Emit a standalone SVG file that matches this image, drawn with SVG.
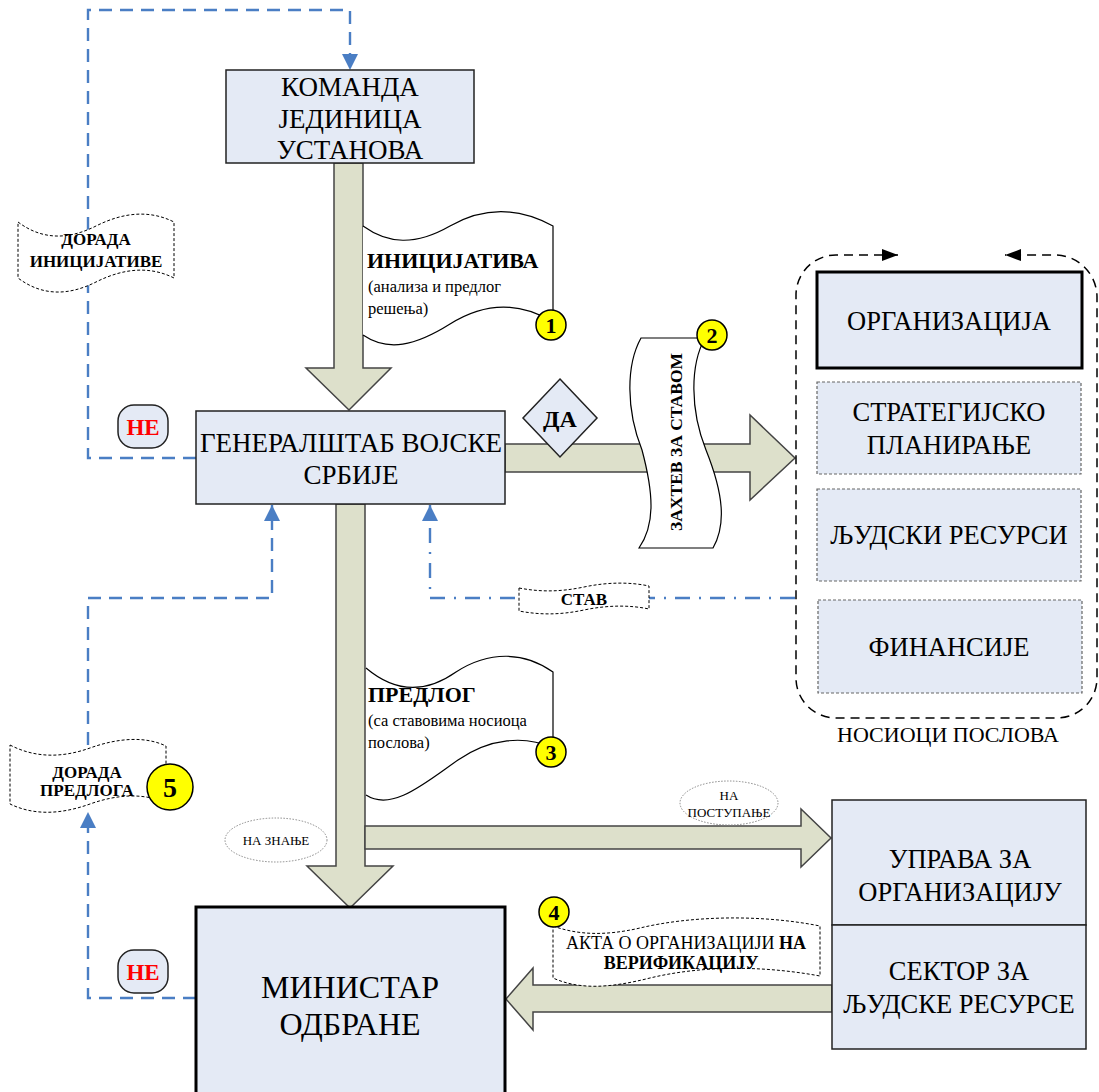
<svg xmlns="http://www.w3.org/2000/svg" width="1099" height="1092" viewBox="0 0 1099 1092">
<style>
  text { font-family: "Liberation Serif", "DejaVu Serif", serif; fill: #000; }
  .box { fill: #E4EAF5; stroke: #222; stroke-width: 1.5; }
  .boxd { fill: #E4EAF5; stroke: #666; stroke-width: 1.2; stroke-dasharray: 3 2; }
  .arr { fill: #DDE0CB; stroke: #444; stroke-width: 1.5; }
  .doc { fill: #fff; stroke: #000; stroke-width: 1.2; }
  .ban { fill: #fff; stroke: #000; stroke-width: 1; stroke-dasharray: 3 2; }
  .blue { fill: none; stroke: #4A7EC4; stroke-width: 2.4; stroke-dasharray: 13 8; }
  .bluedd { fill: none; stroke: #4A7EC4; stroke-width: 2.4; stroke-dasharray: 15 9 2 9; }
  .num { fill: #FFFF00; stroke: #000; stroke-width: 1.5; }
  .numt { font-weight: bold; font-size: 22px; text-anchor: middle; }
  .big { font-size: 27px; text-anchor: middle; }
  .mid { font-size: 26.5px; text-anchor: middle; }
  .ell { fill: #fff; stroke: #888; stroke-width: 1; stroke-dasharray: 1.5 1.5; }
  .small { font-size: 13px; text-anchor: middle; }
  .bb { font-weight: bold; font-size: 17px; text-anchor: middle; }
  .dt { font-weight: bold; font-size: 22px; }
  .ds { font-size: 16.5px; }
</style>
<defs>
  <marker id="bl" viewBox="0 0 16 16" refX="16" refY="8" markerWidth="16" markerHeight="16" markerUnits="userSpaceOnUse" orient="auto" overflow="visible">
    <path d="M0,0 L16,8 L0,16 Z" fill="#4A7EC4"/>
  </marker>
  <marker id="bk" viewBox="0 0 16 12" refX="16" refY="6" markerWidth="16" markerHeight="12" markerUnits="userSpaceOnUse" orient="auto-start-reverse" overflow="visible">
    <path d="M0,0 L16,6 L0,12 Z" fill="#000"/>
  </marker>
</defs>

<g id="connectors">
  <path class="blue" d="M196,458 H88 V10 H350 V70" marker-end="url(#bl)"/>
  <path class="blue" d="M88,745 V598 H272 V505" marker-end="url(#bl)"/>
  <path class="blue" d="M196,998 H88 V812" marker-end="url(#bl)"/>
  <path class="bluedd" d="M795,598 H430 V505" marker-end="url(#bl)"/>
  <polygon class="arr" points="334,163 363,163 363,368 391,368 349,410 306,368 334,368"/>
  <polygon class="arr" points="505,444 750,444 750,415 795,458 750,500 750,472 505,472"/>
  <polygon class="arr" points="336,504 365,504 365,866 393,866 350,908 307,866 336,866"/>
  <polygon class="arr" points="365,826 801,826 801,809 831,838 801,867 801,849 365,849"/>
  <polygon class="arr" points="832,985 533,985 533,968 506,999 533,1030 533,1012 832,1012"/>
</g>

<g id="node-komanda">
  <rect class="box" x="226" y="70" width="248" height="93"/>
  <text class="big" x="350" y="96">КОМАНДА</text>
  <text class="big" x="350" y="128">ЈЕДИНИЦА</text>
  <text class="big" x="350" y="159">УСТАНОВА</text>
</g>

<g id="node-dorada-inicijative">
  <path class="ban" d="M18,222 C42,240 68,240 96,226 C124,212 150,210 174,222 L174,278 C150,266 124,268 96,282 C68,296 42,296 18,278 Z"/>
  <text class="bb" x="96" y="245">ДОРАДА</text>
  <text class="bb" x="96" y="267">ИНИЦИЈАТИВЕ</text>
</g>

<g id="node-inicijativa">
  <path class="doc" d="M363,226 C388,244 415,246 450,226 C485,206 520,208 553,226 L553,322 C520,302 485,302 450,324 C415,346 388,352 363,335"/>
  <text class="dt" x="367" y="268">ИНИЦИЈАТИВА</text>
  <text class="ds" x="368" y="292">(анализа и предлог</text>
  <text class="ds" x="368" y="314">решења)</text>
  <circle class="num" cx="551" cy="325" r="15"/>
  <text class="numt" x="551" y="333">1</text>
</g>

<g id="node-ne-1">
  <rect class="box" x="118" y="405" width="50" height="43" rx="16"/>
  <text x="143" y="435" style="font-weight:bold;font-size:23px;text-anchor:middle;fill:#FF0000">НЕ</text>
</g>

<g id="node-generalstab">
  <rect class="box" x="196" y="411" width="309" height="93"/>
  <text class="big" x="351" y="452">ГЕНЕРАЛШТАБ ВОЈСКЕ</text>
  <text class="big" x="351" y="484">СРБИЈЕ</text>
</g>

<g id="node-da">
  <polygon class="box" points="560,379 597,418 560,457 523,418"/>
  <text x="560" y="427" style="font-weight:bold;font-size:24px;text-anchor:middle">ДА</text>
</g>

<g id="node-zahtev">
  <path class="doc" d="M641,338 L705,338 C690,365 690,410 706,450 C724,495 726,525 713,548 L639,548 C655,525 654,495 642,450 C626,410 626,365 641,338 Z"/>
  <text transform="translate(682,442) rotate(-90)" style="font-weight:bold;font-size:17.5px;text-anchor:middle">ЗАХТЕВ ЗА СТАВОМ</text>
  <circle class="num" cx="712" cy="335" r="15"/>
  <text class="numt" x="712" y="343">2</text>
</g>

<g id="node-nosioci">
  <path d="M898,255 H836 A40,40 0 0 0 796,295 V678 A40,40 0 0 0 836,718 H1057 A40,40 0 0 0 1097,678 V297 A42,42 0 0 0 1055,255 H1005" fill="none" stroke="#000" stroke-width="1.5" stroke-dasharray="9 6" marker-start="url(#bk)" marker-end="url(#bk)"/>
  <text x="948" y="742" style="font-size:22px;text-anchor:middle">НОСИОЦИ ПОСЛОВА</text>
</g>

<g id="node-organizacija">
  <rect x="817" y="272" width="265" height="96" fill="#E4EAF5" stroke="#000" stroke-width="3"/>
  <text class="mid" x="949" y="330">ОРГАНИЗАЦИЈА</text>
</g>

<g id="node-strategijsko">
  <rect class="boxd" x="817" y="382" width="264" height="92"/>
  <text class="mid" x="949" y="421">СТРАТЕГИЈСКО</text>
  <text class="mid" x="949" y="454">ПЛАНИРАЊЕ</text>
</g>

<g id="node-ljudski">
  <rect class="boxd" x="817" y="489" width="264" height="92"/>
  <text class="mid" x="949" y="544">ЉУДСКИ РЕСУРСИ</text>
</g>

<g id="node-finansije">
  <rect class="boxd" x="818" y="600" width="264" height="93"/>
  <text class="mid" x="949" y="656">ФИНАНСИЈЕ</text>
</g>

<g id="node-stav">
  <path class="ban" d="M519,588 C540,592 560,592 584,587 C608,582 630,582 649,586 L649,609 C630,605 608,605 584,610 C560,615 540,615 519,611 Z"/>
  <text class="bb" x="584" y="605">СТАВ</text>
</g>

<g id="node-predlog">
  <path class="doc" d="M366,668 C392,690 422,696 456,672 C490,650 525,652 553,672 L553,748 C525,735 490,738 458,760 C425,783 392,812 366,795"/>
  <text class="dt" x="368" y="702">ПРЕДЛОГ</text>
  <text class="ds" x="368" y="726">(са ставовима носиоца</text>
  <text class="ds" x="368" y="748">послова)</text>
  <circle class="num" cx="551" cy="752" r="15"/>
  <text class="numt" x="551" y="760">3</text>
</g>

<g id="node-dorada-predloga">
  <path class="ban" d="M10,745 C35,758 62,758 90,748 C118,738 145,736 166,746 L166,803 C145,793 118,794 90,804 C62,814 35,816 10,804 Z"/>
  <text class="bb" x="87" y="778">ДОРАДА</text>
  <text class="bb" x="87" y="796">ПРЕДЛОГА</text>
  <circle class="num" cx="170" cy="787" r="23"/>
  <text x="170" y="797" style="font-weight:bold;font-size:28px;text-anchor:middle">5</text>
</g>

<g id="node-na-znanje">
  <ellipse class="ell" cx="276" cy="840" rx="51" ry="22"/>
  <text class="small" x="276" y="845">НА ЗНАЊЕ</text>
</g>

<g id="node-na-postupanje">
  <ellipse class="ell" cx="729" cy="803" rx="49" ry="22"/>
  <text class="small" x="729" y="800">НА</text>
  <text class="small" x="729" y="817">ПОСТУПАЊЕ</text>
</g>

<g id="node-uprava">
  <rect class="box" x="832" y="800" width="254" height="125"/>
  <text class="mid" x="960" y="868">УПРАВА ЗА</text>
  <text class="mid" x="960" y="901">ОРГАНИЗАЦИЈУ</text>
</g>

<g id="node-sektor">
  <rect class="box" x="832" y="925" width="254" height="124"/>
  <text class="mid" x="959" y="980">СЕКТОР ЗА</text>
  <text class="mid" x="959" y="1013">ЉУДСКЕ РЕСУРСЕ</text>
</g>

<g id="node-akta">
  <path class="ban" d="M553,926 C578,935 605,936 640,928 C690,916 760,914 820,926 L820,976 C760,965 700,966 650,978 C610,988 580,990 553,978 Z"/>
  <text x="686" y="949" style="font-size:18px;text-anchor:middle">АКТА О ОРГАНИЗАЦИЈИ <tspan style="font-weight:bold">НА</tspan></text>
  <text x="681" y="969" style="font-size:18px;font-weight:bold;text-anchor:middle">ВЕРИФИКАЦИЈУ</text>
  <circle class="num" cx="554" cy="912" r="15"/>
  <text class="numt" x="554" y="920">4</text>
</g>

<g id="node-ne-2">
  <rect class="box" x="118" y="950" width="50" height="43" rx="16"/>
  <text x="143" y="980" style="font-weight:bold;font-size:23px;text-anchor:middle;fill:#FF0000">НЕ</text>
</g>

<g id="node-ministar">
  <rect x="196" y="907" width="309" height="200" fill="#E4EAF5" stroke="#000" stroke-width="3"/>
  <text x="350" y="998" style="font-size:32px;text-anchor:middle">МИНИСТАР</text>
  <text x="350" y="1035" style="font-size:32px;text-anchor:middle">ОДБРАНЕ</text>
</g>
</svg>
